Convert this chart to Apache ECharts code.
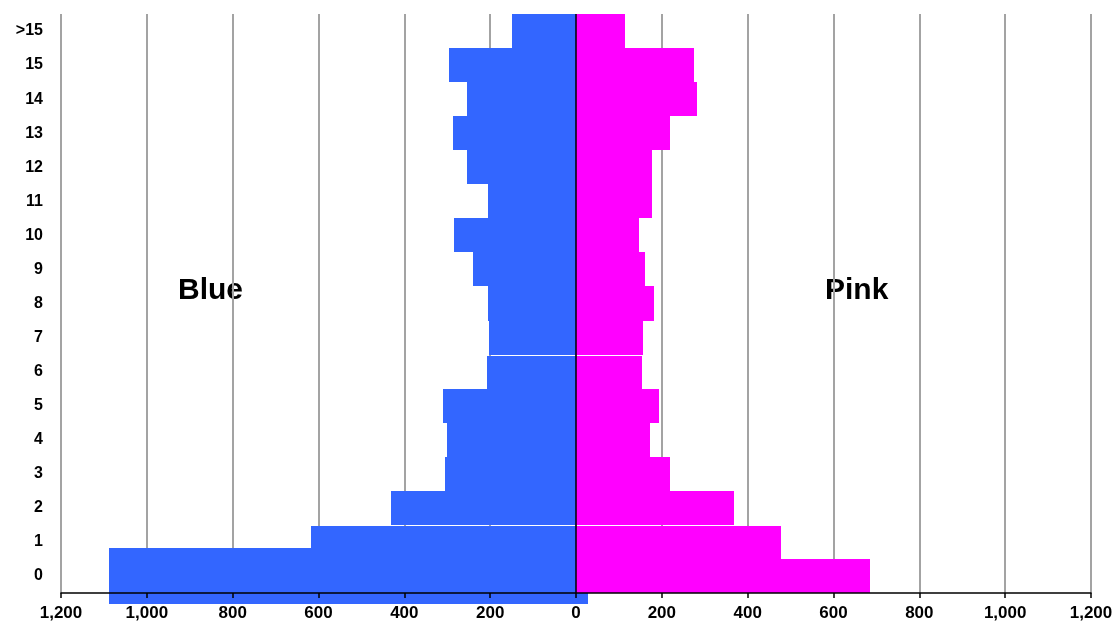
<!DOCTYPE html>
<html><head><meta charset="utf-8">
<script src="https://cdn.jsdelivr.net/npm/echarts@6/dist/echarts.min.js"></script>
<style>html,body{margin:0;padding:0;background:#fff}#c{width:1118px;height:631px}</style>
</head><body><div id="c"></div>
<script>
const categories = ['0','1','2','3','4','5','6','7','8','9','10','11','12','13','14','15','>15'];
const blueValues = [1089, 617, 431, 305, 300, 311, 208, 202, 206, 241, 284, 204, 255, 287, 255, 296, 150];
const pinkValues = [685, 477, 368, 219, 173, 194, 154, 157, 182, 161, 147, 178, 178, 219, 281, 275, 114];
const blueRow0Overhang = 29;
const seriesNames = ['Blue', 'Pink'];
const xMin = -1200, xMax = 1200, xStep = 200;

// shape quirks of the original drawing (band fractions)
const blueBandTop = {0: 0.83};
const blueBandBottom = {0: -0.82, 1: -0.17};
const seamRows = [1, 6];

const blueData = blueValues.map((v, i) => [i, -v, i === 0 ? blueRow0Overhang : 0,
  blueBandTop[i] !== undefined ? blueBandTop[i] : 0.5,
  blueBandBottom[i] !== undefined ? blueBandBottom[i] : -0.5]);
const pinkData = pinkValues.map((v, i) => [i, 0, v, 0.5, -0.5]);

function renderBar(params, api) {
  const idx = api.value(0);
  const a = api.coord([api.value(1), idx]);
  const b = api.coord([api.value(2), idx]);
  const band = api.size([0, 1])[1];
  let yTop = Math.round(a[1] - api.value(3) * band);
  const yBot = Math.round(a[1] - api.value(4) * band);
  if (seamRows.indexOf(idx) >= 0) yTop += 1;
  const x0 = Math.round(Math.min(a[0], b[0]));
  const x1 = Math.round(Math.max(a[0], b[0]));
  return {
    type: 'rect',
    shape: { x: x0, y: yTop, width: x1 - x0, height: yBot - yTop },
    style: { fill: api.visual('color') }
  };
}

const fmt = v => Math.abs(v).toLocaleString('en-US');
const chart = echarts.init(document.getElementById('c'), null, { renderer: 'canvas' });
chart.setOption({
  animation: false,
  grid: { left: 61, right: 27, top: 14, bottom: 38, containLabel: false },
  xAxis: [{
    type: 'value', min: xMin, max: xMax, interval: xStep,
    axisLine: { show: false }, axisTick: { show: false }, axisLabel: { show: false },
    splitLine: { show: true, lineStyle: { color: '#a3a3a3', width: 2 } }
  }, {
    type: 'value', min: xMin, max: xMax, interval: xStep, position: 'bottom', z: 10,
    axisLine: { show: true, onZero: false, lineStyle: { color: '#000', width: 1.5 } },
    axisTick: { show: true, length: 5, lineStyle: { color: '#000', width: 1.5 } },
    axisLabel: { show: true, margin: 12, formatter: fmt, color: '#000', fontFamily: 'Liberation Sans', fontWeight: 'bold', fontSize: 17 },
    splitLine: { show: false }
  }],
  yAxis: {
    type: 'category', data: categories, boundaryGap: true,
    axisLine: { show: false }, axisTick: { show: false },
    axisLabel: { margin: 18, color: '#000', fontFamily: 'Liberation Sans', fontWeight: 'bold', fontSize: 16 },
    splitLine: { show: false }
  },
  series: [{
    name: seriesNames[0], type: 'custom', xAxisIndex: 0, renderItem: renderBar,
    encode: { x: [1, 2], y: 0 }, data: blueData, itemStyle: { color: '#3366ff' }, clip: false, z: 2
  }, {
    name: seriesNames[1], type: 'custom', xAxisIndex: 0, renderItem: renderBar,
    encode: { x: [1, 2], y: 0 }, data: pinkData, itemStyle: { color: '#ff00ff' }, clip: false, z: 3,
    markLine: {
      silent: true, symbol: 'none', label: { show: false }, z: 5,
      lineStyle: { color: '#000', width: 1.5, type: 'solid' },
      data: [{ xAxis: 0 }]
    }
  }],
  graphic: [
    { type: 'text', x: 178, y: 291, style: { text: seriesNames[0], fill: '#000', font: 'bold 30px "Liberation Sans"', verticalAlign: 'middle', align: 'left' } },
    { type: 'text', x: 825, y: 291, style: { text: seriesNames[1], fill: '#000', font: 'bold 30px "Liberation Sans"', verticalAlign: 'middle', align: 'left' } }
  ]
});
</script></body></html>
